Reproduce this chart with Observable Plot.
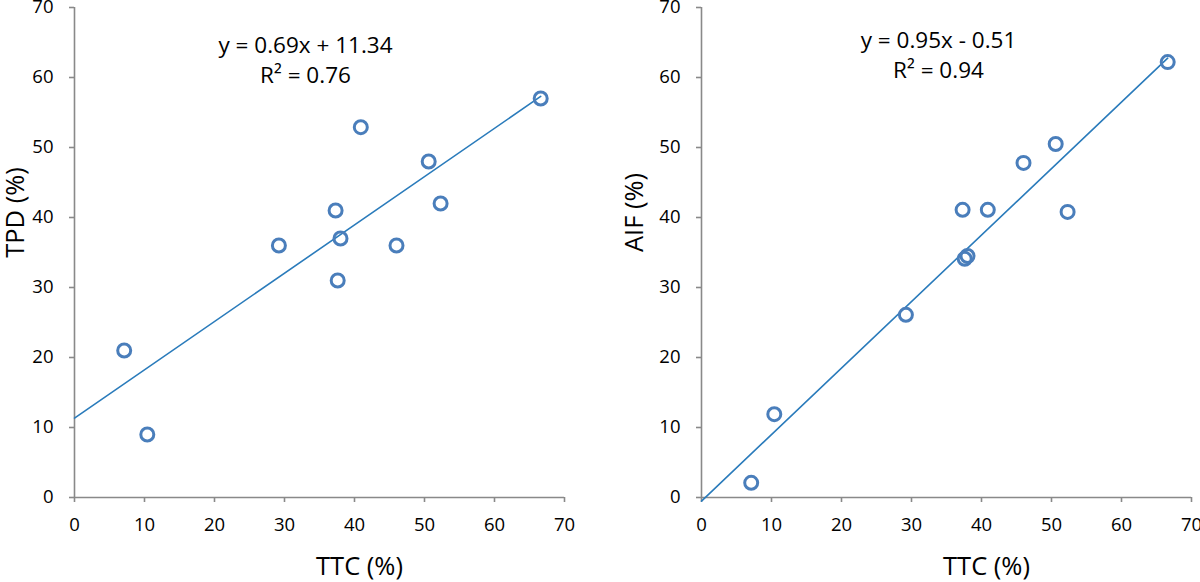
<!DOCTYPE html>
<html><head><meta charset="utf-8">
<script src="https://cdn.jsdelivr.net/npm/d3@7"></script>
<script src="https://cdn.jsdelivr.net/npm/@observablehq/plot@0.6"></script>
<style>
body{margin:0;background:#fff;}
#row{display:flex;width:1200px;height:582px;overflow:hidden;}
#row svg{flex:none;}
</style></head><body><div id="row"></div>
<script>
// data
const ttc = [7.1, 10.4, 29.2, 37.3, 37.6, 38.0, 40.9, 46.0, 50.6, 52.3, 66.6];
const tpd = [21.0, 9.0, 36.0, 41.0, 31.0, 37.0, 52.9, 36.0, 48.0, 42.0, 57.0];
const aif = [2.1, 11.9, 26.1, 41.1, 34.1, 34.5, 41.1, 47.8, 50.5, 40.8, 62.2];
const tickValues = [0, 10, 20, 30, 40, 50, 60, 70];
const panelYLabels = ["TPD (%)", "AIF (%)"];
const xLabel = "TTC (%)";
const slopes = [0.69, 0.95];
const intercepts = [11.34, -0.51];
const rSquared = [0.76, 0.94];

const gray = "#898989";
const dotColor = "#4a7ebb";
const lineColor = "#2a7bbb";
const font = "Open Sans";

function panel(i, yValues, layout) {
  const pts = ttc.map((x, k) => ({x, y: yValues[k]}));
  const fit = [0, d3.max(ttc)].map(x => ({x, y: slopes[i] * x + intercepts[i]}));
  const b = intercepts[i];
  const eq = `y = ${slopes[i].toFixed(2)}x ${b < 0 ? "-" : "+"} ${Math.abs(b).toFixed(2)}\nR² = ${rSquared[i].toFixed(2)}`;
  return Plot.plot({
    width: 600, height: 582,
    marginLeft: layout.ml, marginRight: layout.mr, marginTop: 7, marginBottom: 85,
    style: {fontFamily: font, fontSize: "18.5px", color: "#000", background: "transparent", overflow: "visible"},
    x: {domain: [0, 70]},
    y: {domain: [0, 70]},
    marks: [
      Plot.ruleX([0], {stroke: gray, strokeWidth: 1.6}),
      Plot.ruleY([0], {stroke: gray, strokeWidth: 1.6}),
      Plot.axisX({ticks: tickValues, tickSize: 5, tickPadding: 15, stroke: gray, strokeWidth: 1.6, label: null, fill: "#000", fontSize: 18.5}),
      Plot.axisY({ticks: tickValues, tickSize: 5, tickPadding: 16, stroke: gray, strokeWidth: 1.6, label: null, fill: "#000", fontSize: 18.5}),
      Plot.line(fit, {x: "x", y: "y", stroke: lineColor, strokeWidth: 1.6}),
      Plot.dot(pts, {x: "x", y: "y", r: 6.5, stroke: dotColor, strokeWidth: 3, fill: "none"}),
      Plot.text([eq], {frameAnchor: "top", textAnchor: "middle", dx: layout.eqDx, dy: layout.eqDy, lineAnchor: "top", lineHeight: 1.33, fontSize: 22.5, fill: "#000"}),
      Plot.text([xLabel], {frameAnchor: "bottom", textAnchor: "middle", dx: 40, dy: 77, lineAnchor: "bottom", fontSize: 25.5, fill: "#000"}),
      Plot.text([panelYLabels[i]], {frameAnchor: "left", textAnchor: "middle", rotate: -90, dx: layout.yDx, dy: -40, lineAnchor: "bottom", fontSize: 25.5, fill: "#000"})
    ]
  });
}

const row = document.getElementById("row");
row.append(panel(0, tpd, {ml: 74, mr: 36, eqDx: -14, eqDy: 24, yDx: -51}));
row.append(panel(1, aif, {ml: 101, mr: 9, eqDx: -8, eqDy: 19, yDx: -59}));
</script>
</body></html>
